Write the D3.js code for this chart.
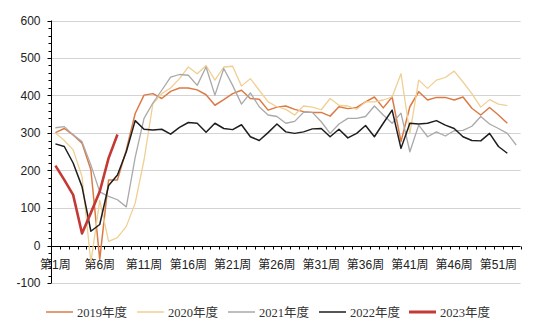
<!DOCTYPE html>
<html><head><meta charset="utf-8">
<script src="https://cdn.jsdelivr.net/npm/d3@7"></script>
<style>
html,body{margin:0;padding:0;background:#fff;}
text{font-family:"Liberation Sans","Noto Sans CJK SC",sans-serif;}
text.leg{font-family:"Liberation Serif","Noto Sans CJK SC",serif;}
</style></head><body>
<svg id="c" width="550" height="332"></svg>
<script>
const weeks = d3.range(1, 54);
const weekLabels = [1, 6, 11, 16, 21, 26, 31, 36, 41, 46, 51];
const yTicks = [-100, 0, 100, 200, 300, 400, 500, 600];
const seriesNames = ["2019年度", "2020年度", "2021年度", "2022年度", "2023年度"];

const s2019 = [301,312,295,273,202,-37,175,175,255,352,401,405,392,411,420,420,415,402,374,389,405,414,392,390,361,369,372,363,357,355,355,345,370,365,368,383,396,367,396,277,370,410,388,395,395,388,396,366,348,368,348,326];
const s2020 = [300,280,255,184,-45,120,11,21,51,113,228,378,405,420,445,476,458,480,441,476,478,425,445,414,383,370,363,348,372,369,362,392,374,372,363,383,383,388,396,458,299,441,419,441,448,465,436,405,369,389,377,373];
const s2021 = [314,317,295,277,215,143,131,122,103,235,339,380,414,449,456,454,427,476,401,472,427,377,407,370,348,344,326,331,355,355,330,299,324,339,339,344,372,348,326,353,250,321,290,303,292,306,307,318,344,324,312,299,268];
const s2022 = [271,264,220,157,38,56,160,188,250,333,310,308,310,297,315,328,326,302,326,312,309,322,290,280,301,324,303,299,303,311,312,290,310,287,299,320,290,326,361,259,326,324,326,333,321,312,290,280,279,299,264,246];
const s2023 = [213,175,135,32,87,144,233,296];

const series = [s2019, s2020, s2021, s2022, s2023];
const colors = ["#dc7a45", "#f0cf92", "#a9a9a9", "#1e1e1e", "#c33a35"];
const widths = [1.5, 1.3, 1.3, 1.5, 2.6];

const svg = d3.select("#c");
const x = d3.scaleBand().domain(weeks).range([51, 520.6]);
const y = d3.scaleLinear().domain([-100, 600]).range([283, 20.5]);
const cx = w => x(w) + x.bandwidth() / 2;

// gridlines
svg.append("g").selectAll("line").data(yTicks.filter(v => v !== 0)).join("line")
  .attr("x1", 51).attr("x2", 520.6)
  .attr("y1", d => Math.round(y(d)) + 0.5).attr("y2", d => Math.round(y(d)) + 0.5)
  .attr("stroke", "#d4d4d4").attr("stroke-width", 1);

// y axis
const yAxis = svg.append("g").attr("transform", "translate(51.5,0)");
yAxis.append("line").attr("x1", 0).attr("x2", 0).attr("y1", y(600)).attr("y2", y(-100)).attr("stroke", "#000");
yAxis.selectAll("line.minor").data(d3.range(-100, 601, 20)).join("line").attr("class", "minor")
  .attr("x1", d => d % 100 === 0 ? -4 : -3).attr("x2", 0)
  .attr("y1", d => Math.round(y(d)) + 0.5).attr("y2", d => Math.round(y(d)) + 0.5)
  .attr("stroke", "#000");
yAxis.selectAll("text").data(yTicks).join("text")
  .attr("x", -11).attr("y", d => y(d) + 4)
  .attr("text-anchor", "end").attr("font-size", 12).attr("fill", "#222")
  .text(d => d);

// x axis at 0
const y0 = Math.round(y(0)) + 0.5;
const xAxis = svg.append("g");
xAxis.append("line").attr("x1", 51).attr("x2", 520.6).attr("y1", y0).attr("y2", y0).attr("stroke", "#000");
xAxis.selectAll("line.t").data(weeks.concat([54])).join("line").attr("class", "t")
  .attr("x1", d => Math.round(d === 54 ? 520.6 : x(d)) + 0.5).attr("x2", d => Math.round(d === 54 ? 520.6 : x(d)) + 0.5)
  .attr("y1", y0).attr("y2", y0 + 3).attr("stroke", "#000");
xAxis.selectAll("text").data(weekLabels).join("text")
  .attr("x", d => cx(d)).attr("y", 269)
  .attr("text-anchor", "middle").attr("font-size", 12).attr("fill", "#222")
  .text(d => "第" + d + "周");

// lines
const line = d3.line().x((d, i) => cx(weeks[i])).y(d => y(d));
series.forEach((s, i) => {
  svg.append("path").datum(s).attr("d", line)
    .attr("fill", "none").attr("stroke", colors[i]).attr("stroke-width", widths[i])
    .attr("stroke-linejoin", "round");
});

// legend
const legX = [46, 137, 228, 319, 409];
const legY = 312;
const leg = svg.append("g");
seriesNames.forEach((n, i) => {
  leg.append("line").attr("x1", legX[i]).attr("x2", legX[i] + 27)
    .attr("y1", legY).attr("y2", legY)
    .attr("stroke", colors[i]).attr("stroke-width", i === 4 ? 3 : 1.5);
  leg.append("text").attr("class", "leg").attr("x", legX[i] + 31).attr("y", legY + 4.5)
    .attr("font-size", 12.5).attr("fill", "#333").text(n);
});
</script>
</body></html>
